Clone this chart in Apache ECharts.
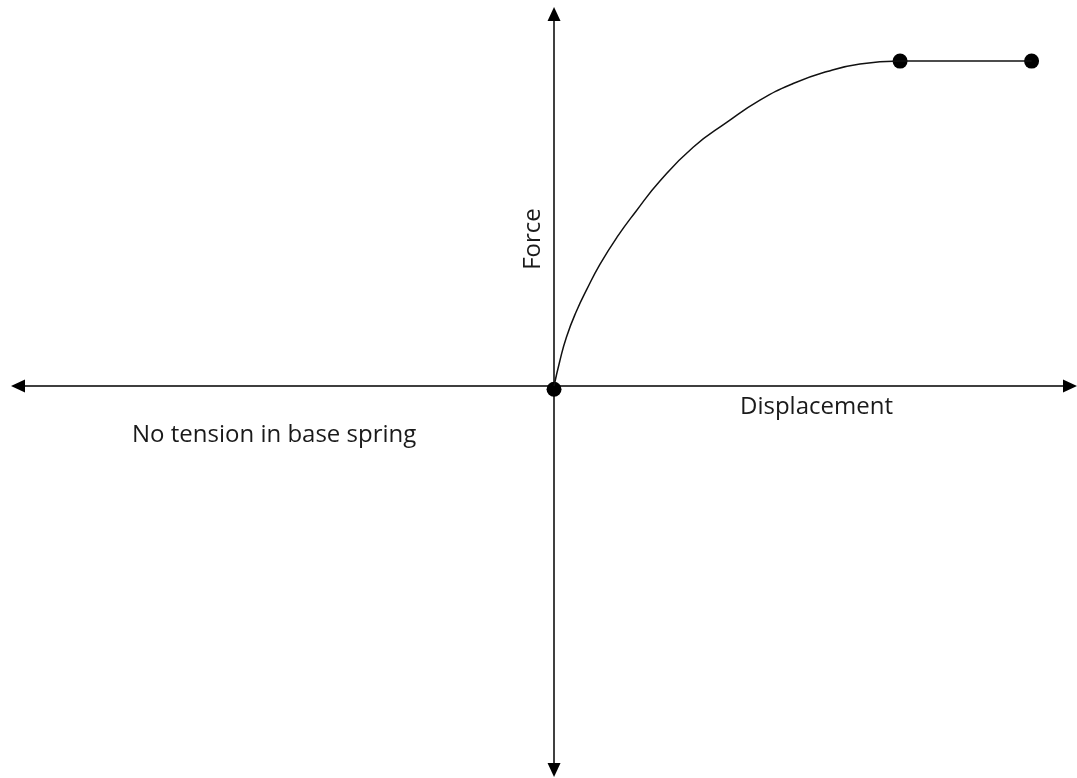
<!DOCTYPE html>
<html>
<head>
<meta charset="utf-8">
<title>Base spring force-displacement</title>
<script src="https://cdn.jsdelivr.net/npm/echarts@6/dist/echarts.min.js"></script>
<style>
  html, body { margin: 0; padding: 0; background: #fff; }
  #chart { width: 1077px; height: 778px; }
</style>
</head>
<body>
<div id="chart"></div>
<script>
// displacement / force (plateau = 10 units)
var curveDisp  = [0, 0.16, 0.36, 0.65, 0.95, 1.33, 1.82, 2.37, 3.06, 4.02, 5.00, 5.95, 6.91, 7.89, 8.84, 10];
var curveForce = [0, 0.74, 1.51, 2.31, 2.98, 3.75, 4.58, 5.38, 6.31, 7.35, 8.12, 8.80, 9.31, 9.68, 9.91, 10];
var plateauDisp  = [10, 13.8];
var plateauForce = [10, 10];
var dotDisp  = [0, 10, 13.8];
var dotForce = [-0.1, 10, 10];

var xLabel = "Displacement";
var yLabel = "Force";
var noteLabel = "No tension in base spring";

var xMin = -15.49, xMax = 14.91;
var yMin = -11.82, yMax = 11.45;

function pairs(xs, ys) {
  return xs.map(function (x, i) { return [x, ys[i]]; });
}

var myChart = echarts.init(document.getElementById("chart"));
var font = "'Open Sans', 'Noto Sans', sans-serif";

// 坐标轴：只保留两端带箭头的轴线
var axisCommon = {
  type: "value",
  axisLine: {
    show: true,
    onZero: true,
    symbol: ["triangle", "triangle"],
    symbolSize: [13, 14],
    lineStyle: { color: "#000", width: 1.5 }
  },
  axisTick: { show: false },
  axisLabel: { show: false },
  splitLine: { show: false }
};

var option = {
  animation: false,
  backgroundColor: "#fff",
  grid: { left: 18, right: 7, top: 14, bottom: 8 },
  xAxis: Object.assign({}, axisCommon, { min: xMin, max: xMax }),
  yAxis: Object.assign({}, axisCommon, { min: yMin, max: yMax }),
  graphic: [
    {
      type: "text",
      x: 533, y: 239,
      rotation: Math.PI / 2,
      style: { text: yLabel, font: "24px " + font, fill: "#1a1a1a", align: "center", verticalAlign: "middle" }
    },
    {
      type: "text",
      x: 740, y: 407,
      style: { text: xLabel, font: "24px " + font, fill: "#1a1a1a", align: "left", verticalAlign: "middle" }
    },
    {
      type: "text",
      x: 132, y: 435,
      style: { text: noteLabel, font: "24px " + font, fill: "#1a1a1a", align: "left", verticalAlign: "middle" }
    }
  ],
  series: [
    {
      type: "line",
      data: pairs(curveDisp, curveForce),
      smooth: 0.5,
      showSymbol: false,
      lineStyle: { color: "#111", width: 1.5 }
    },
    {
      type: "line",
      data: pairs(plateauDisp, plateauForce),
      showSymbol: false,
      lineStyle: { color: "#111", width: 1.5 }
    },
    {
      type: "scatter",
      data: pairs(dotDisp, dotForce),
      symbolSize: 15,
      itemStyle: { color: "#000", opacity: 1 }
    }
  ]
};

myChart.setOption(option);
</script>
</body>
</html>
